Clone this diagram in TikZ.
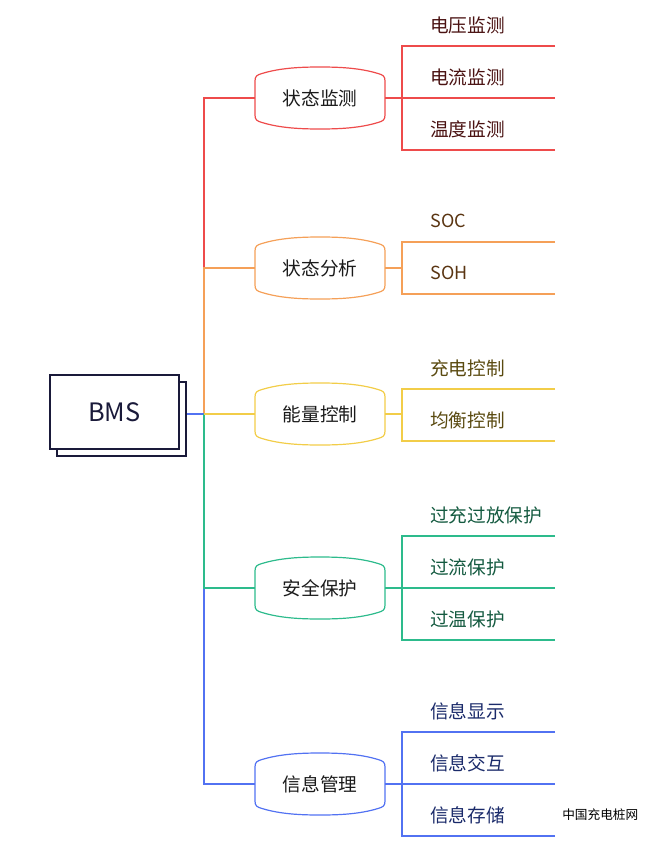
\documentclass[tikz,border=0pt]{standalone}
\usepackage{fontspec}
\setmainfont{Noto Sans CJK SC}
\usetikzlibrary{calc}
\definecolor{cred}{HTML}{EE4B4B}
\definecolor{corange}{HTML}{F5A058}
\definecolor{cyellow}{HTML}{F2CD48}
\definecolor{cgreen}{HTML}{2DBB8C}
\definecolor{cblue}{HTML}{5272F2}
\definecolor{tred}{HTML}{4A1212}
\definecolor{torange}{HTML}{5A3512}
\definecolor{tyellow}{HTML}{5A4A10}
\definecolor{tgreen}{HTML}{145A40}
\definecolor{tblue}{HTML}{1A2A6A}
\definecolor{cnavy}{HTML}{1A1A3A}
\definecolor{ctext}{HTML}{1A1A1A}
\newcommand\lvshape[2]{\draw[#1, line width=0.9pt, shift={(#2.center)}]
 (-65,-17) .. controls (-65,-22) and (-63,-23) .. (-58,-24.5)
 .. controls (-40,-30) and (-20,-31) .. (0,-31)
 .. controls (20,-31) and (40,-30) .. (58,-24.5)
 .. controls (63,-23) and (65,-22) .. (65,-17) -- (65,17)
 .. controls (65,22) and (63,23) .. (58,24.5)
 .. controls (40,30) and (20,31) .. (0,31)
 .. controls (-20,31) and (-40,30) .. (-58,24.5)
 .. controls (-63,23) and (-65,22) .. (-65,17) -- cycle;}
\begin{document}
\begin{tikzpicture}[x=0.75pt,y=-0.75pt,
  lvone/.style={minimum width=97.5pt, minimum height=45.75pt, inner sep=0pt, font=\fontsize{14}{16}\selectfont, text=ctext},
  leaf/.style={anchor=west, inner sep=0pt, font=\fontsize{14}{16}\selectfont},
  leaflat/.style={anchor=west, inner sep=0pt, font=\fontsize{13.5}{15}\selectfont},
  conn/.style={line width=0.9pt},
  bmsbox/.style={draw=cnavy, fill=white, line width=0.9pt, minimum width=96.75pt, minimum height=55.5pt, inner sep=0pt}]
\useasboundingbox (0,0) rectangle (648,845);

% BMS
\node[bmsbox] (bmsshadow) at (121.5,419) {};
\node[bmsbox, font=\fontsize{19}{22}\selectfont, text=cnavy] (bms) at (114.5,412) {BMS};

\coordinate (t) at (204,414);

% level 1 nodes
\node[lvone] (s1) at (320,98) {状态监测};
\node[lvone] (s2) at (320,268) {状态分析};
\node[lvone] (s3) at (320,414) {能量控制};
\node[lvone] (s4) at (320,588) {安全保护};
\node[lvone] (s5) at (320,784) {信息管理};
\lvshape{cred}{s1}
\lvshape{corange}{s2}
\lvshape{cyellow}{s3}
\lvshape{cgreen}{s4}
\lvshape{cblue}{s5}

% trunk
\draw[conn, cred] (s1.west) -| (t);
\draw[conn, corange] (s2.west) -| (t);
\draw[conn, cblue] (s5.west) -| (t) -- (t -| bmsshadow.east);
\draw[conn, cgreen] (s4.west) -| (t);
\draw[conn, cyellow] (t) -- (s3.west);

% branch 1
\coordinate (j1) at (402,98);
\coordinate (e11) at (555,46);
\coordinate (e12) at (555,98);
\coordinate (e13) at (555,150);
\draw[conn, cred] (s1.east) -- (j1) -- (e12);
\draw[conn, cred] (e11) -| (j1);
\draw[conn, cred] (e13) -| (j1);
\node[leaf, text=tred] (l11) at (430,25) {电压监测};
\node[leaf, text=tred] (l12) at (430,77) {电流监测};
\node[leaf, text=tred] (l13) at (430,129) {温度监测};

% branch 2
\coordinate (j2) at (402,268);
\coordinate (e21) at (555,242);
\coordinate (e22) at (555,294);
\draw[conn, corange] (s2.east) -- (j2);
\draw[conn, corange] (e21) -| (j2);
\draw[conn, corange] (e22) -| (j2);
\node[leaflat, text=torange] (l21) at (430,221) {SOC};
\node[leaflat, text=torange] (l22) at (430,273) {SOH};

% branch 3
\coordinate (j3) at (402,414);
\coordinate (e31) at (555,389);
\coordinate (e32) at (555,441);
\draw[conn, cyellow] (s3.east) -- (j3);
\draw[conn, cyellow] (e31) -| (j3);
\draw[conn, cyellow] (e32) -| (j3);
\node[leaf, text=tyellow] (l31) at (430,368) {充电控制};
\node[leaf, text=tyellow] (l32) at (430,420) {均衡控制};

% branch 4
\coordinate (j4) at (402,588);
\coordinate (e41) at (555,536);
\coordinate (e42) at (555,588);
\coordinate (e43) at (555,640);
\draw[conn, cgreen] (s4.east) -- (j4) -- (e42);
\draw[conn, cgreen] (e41) -| (j4);
\draw[conn, cgreen] (e43) -| (j4);
\node[leaf, text=tgreen] (l41) at (430,515) {过充过放保护};
\node[leaf, text=tgreen] (l42) at (430,567) {过流保护};
\node[leaf, text=tgreen] (l43) at (430,619) {过温保护};

% branch 5
\coordinate (j5) at (402,784);
\coordinate (e51) at (555,732);
\coordinate (e52) at (555,784);
\coordinate (e53) at (555,836);
\draw[conn, cblue] (s5.east) -- (j5) -- (e52);
\draw[conn, cblue] (e51) -| (j5);
\draw[conn, cblue] (e53) -| (j5);
\node[leaf, text=tblue] (l51) at (430,711) {信息显示};
\node[leaf, text=tblue] (l52) at (430,763) {信息交互};
\node[leaf, text=tblue] (l53) at (430,815) {信息存储};

% watermark
\node[anchor=west, inner sep=0pt, font=\fontsize{9.5}{11}\selectfont, text=black] (wm) at (562,815) {中国充电桩网};
\end{tikzpicture}
\end{document}
